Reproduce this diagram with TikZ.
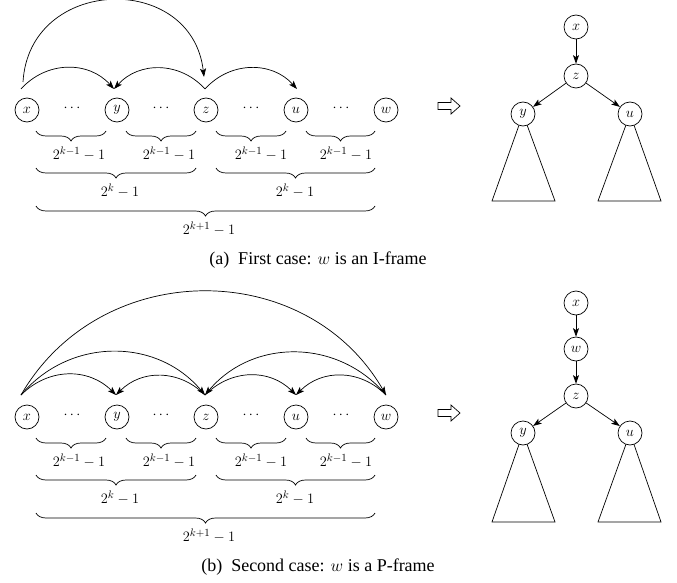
\documentclass[tikz,border=0pt]{standalone}
\usepackage{fontspec}
\setmainfont{Liberation Serif}
\usetikzlibrary{arrows.meta,decorations.pathreplacing}
\begin{document}
\begin{tikzpicture}[x=1pt,y=-1pt,
  vx/.style={circle,draw,fill=white,line width=0.7pt,minimum size=24pt,inner sep=0pt,font=\fontsize{14}{16}\selectfont},
  lbl/.style={font=\fontsize{15}{18}\selectfont,inner sep=0pt},
  captext/.style={font=\fontsize{18}{21}\selectfont,inner sep=0pt,anchor=base},
  arcarrow/.style={line width=0.7pt,-{Stealth[length=8.5pt,width=6pt,inset=2pt]}},
  brc/.style={line width=0.7pt,decorate,decoration={brace,mirror,amplitude=10pt}},
  tri/.style={line width=0.7pt},
  hollow/.style={line width=0.7pt,fill=white}]
\useasboundingbox (0,0) rectangle (677,583);
% ===================== (a) =====================
\node[vx] (xa) at (27,110) {$x$};
\node[vx] (ya) at (117,110) {$y$};
\node[vx] (za) at (206,110) {$z$};
\node[vx] (ua) at (296,110) {$u$};
\node[vx] (wa) at (386,110) {$w$};
\node[lbl] (d1a) at (72,108) {$\cdots$};
\node[lbl] (d2a) at (161,108) {$\cdots$};
\node[lbl] (d3a) at (251,108) {$\cdots$};
\node[lbl] (d4a) at (341,108) {$\cdots$};
\coordinate (xta) at (21,89);
\coordinate (xba) at (23,82);
\coordinate (yta) at (114,89);
\coordinate (zta) at (205,89);
\coordinate (zba) at (204,77);
\coordinate (uta) at (297,89);
\draw[arcarrow] (xta) to[bend left=48,looseness=1.05] (yta);
\draw[arcarrow] (zta) to[bend right=48,looseness=1.05] (yta);
\draw[arcarrow] (zta) to[bend left=48,looseness=1.05] (uta);
\draw[arcarrow] (xba) to[bend left=85,looseness=1.5] (zba);
% braces
\coordinate (b1sa) at (36,131); \coordinate (b1ea) at (106,131);
\coordinate (b2sa) at (126,131); \coordinate (b2ea) at (196,131);
\coordinate (b3sa) at (216,131); \coordinate (b3ea) at (286,131);
\coordinate (b4sa) at (306,131); \coordinate (b4ea) at (375,131);
\draw[brc] (b1sa) -- (b1ea);
\draw[brc] (b2sa) -- (b2ea);
\draw[brc] (b3sa) -- (b3ea);
\draw[brc] (b4sa) -- (b4ea);
\node[lbl] (l1a) at (79,154) {$2^{k-1}-1$};
\node[lbl] (l2a) at (169,154) {$2^{k-1}-1$};
\node[lbl] (l3a) at (261,154) {$2^{k-1}-1$};
\node[lbl] (l4a) at (346,154) {$2^{k-1}-1$};
\coordinate (c1sa) at (36,168); \coordinate (c1ea) at (196,168);
\coordinate (c2sa) at (216,168); \coordinate (c2ea) at (375,168);
\draw[brc] (c1sa) -- (c1ea);
\draw[brc] (c2sa) -- (c2ea);
\node[lbl] (m1a) at (120,191) {$2^{k}-1$};
\node[lbl] (m2a) at (295,191) {$2^{k}-1$};
\coordinate (e1sa) at (36,206); \coordinate (e1ea) at (375,206);
\draw[brc] (e1sa) -- (e1ea);
\node[lbl] (n1a) at (209,229) {$2^{k+1}-1$};
% hollow arrow
\draw[hollow] (438,102.5) -- (451,102.5) -- (451,98) -- (460,106) -- (451,114) -- (451,109.5) -- (438,109.5) -- cycle;
% tree (a)
\coordinate (tya) at (523,114);
\coordinate (tua) at (630,114);
\draw[tri] (tya) -- (492,201) -- (555,201) -- cycle;
\draw[tri] (tua) -- (598,201) -- (661,201) -- cycle;
\node[vx] (Txa) at (576,27) {$x$};
\node[vx] (Tza) at (576,76) {$z$};
\node[vx] (Tya) at (tya) {$y$};
\node[vx] (Tua) at (tua) {$u$};
\draw[arcarrow] (Txa) -- (Tza);
\draw[arcarrow] (Tza) -- (Tya);
\draw[arcarrow] (Tza) -- (Tua);
\node[captext] (capa) at (318,264) {(a)\enspace First case: $w$ is an I-frame};
% ===================== (b) =====================
\node[vx] (xb) at (27,417) {$x$};
\node[vx] (yb) at (117,417) {$y$};
\node[vx] (zb) at (206,417) {$z$};
\node[vx] (ub) at (296,417) {$u$};
\node[vx] (wb) at (386,417) {$w$};
\node[lbl] (d1b) at (72,415) {$\cdots$};
\node[lbl] (d2b) at (161,415) {$\cdots$};
\node[lbl] (d3b) at (251,415) {$\cdots$};
\node[lbl] (d4b) at (341,415) {$\cdots$};
\coordinate (xtb) at (21,395);
\coordinate (ytb) at (116,395);
\coordinate (ztb) at (205,395);
\coordinate (utb) at (296,395);
\coordinate (wtb) at (386,395);
\draw[arcarrow] (xtb) to[bend left=45,looseness=1.05] (ytb);
\draw[arcarrow] (ztb) to[bend right=45,looseness=1.05] (ytb);
\draw[arcarrow] (ztb) to[bend left=45,looseness=1.05] (utb);
\draw[arcarrow] (wtb) to[bend right=45,looseness=1.05] (utb);
\draw[arcarrow] (xtb) to[bend left=50,looseness=1.05] (ztb);
\draw[arcarrow] (wtb) to[bend right=50,looseness=1.05] (ztb);
\draw[arcarrow] (xtb) to[bend left=60,looseness=1.12] (wtb);
% braces
\coordinate (b1sb) at (36,438); \coordinate (b1eb) at (106,438);
\coordinate (b2sb) at (126,438); \coordinate (b2eb) at (196,438);
\coordinate (b3sb) at (216,438); \coordinate (b3eb) at (286,438);
\coordinate (b4sb) at (306,438); \coordinate (b4eb) at (375,438);
\draw[brc] (b1sb) -- (b1eb);
\draw[brc] (b2sb) -- (b2eb);
\draw[brc] (b3sb) -- (b3eb);
\draw[brc] (b4sb) -- (b4eb);
\node[lbl] (l1b) at (79,461) {$2^{k-1}-1$};
\node[lbl] (l2b) at (169,461) {$2^{k-1}-1$};
\node[lbl] (l3b) at (261,461) {$2^{k-1}-1$};
\node[lbl] (l4b) at (346,461) {$2^{k-1}-1$};
\coordinate (c1sb) at (36,475); \coordinate (c1eb) at (196,475);
\coordinate (c2sb) at (216,475); \coordinate (c2eb) at (375,475);
\draw[brc] (c1sb) -- (c1eb);
\draw[brc] (c2sb) -- (c2eb);
\node[lbl] (m1b) at (120,498) {$2^{k}-1$};
\node[lbl] (m2b) at (295,498) {$2^{k}-1$};
\coordinate (e1sb) at (36,513); \coordinate (e1eb) at (375,513);
\draw[brc] (e1sb) -- (e1eb);
\node[lbl] (n1b) at (209,536) {$2^{k+1}-1$};
% hollow arrow
\draw[hollow] (438,409.5) -- (451,409.5) -- (451,405) -- (460,413) -- (451,421) -- (451,416.5) -- (438,416.5) -- cycle;
% tree (b)
\coordinate (tyb) at (523,433);
\coordinate (tub) at (630,433);
\draw[tri] (tyb) -- (492,522) -- (555,522) -- cycle;
\draw[tri] (tub) -- (598,522) -- (661,522) -- cycle;
\node[vx] (Txb) at (576,303) {$x$};
\node[vx] (Twb) at (576,349) {$w$};
\node[vx] (Tzb) at (576,396) {$z$};
\node[vx] (Tyb) at (tyb) {$y$};
\node[vx] (Tub) at (tub) {$u$};
\draw[arcarrow] (Txb) -- (Twb);
\draw[arcarrow] (Twb) -- (Tzb);
\draw[arcarrow] (Tzb) -- (Tyb);
\draw[arcarrow] (Tzb) -- (Tub);
\node[captext] (capb) at (318,571) {(b)\enspace Second case: $w$ is a P-frame};
\end{tikzpicture}
\end{document}
